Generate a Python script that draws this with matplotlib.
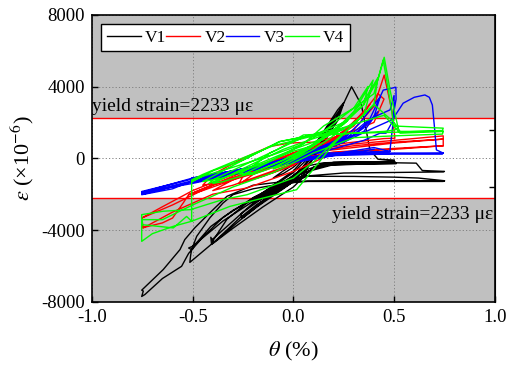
import matplotlib
matplotlib.use("Agg")
import matplotlib.pyplot as plt

plt.rcParams['font.family'] = ['Liberation Serif', 'DejaVu Serif']
plt.rcParams['mathtext.fontset'] = 'stix'

# (rotation %, strain x1e-6) pairs for each gauge, in loading order
v1_path = [
    (0, 0), (0.05, 250), (0.10, 800), (0.06, 200), (0, -350), (-0.05, -700), (-0.10, -1100), (-0.05, -850), (0, -500),
    (0.06, 100), (0.12, 1000), (0.18, 1900), (0.20, 2300), (0.15, 1300), (0.08, 300), (0, -700), (-0.10, -1500),
    (-0.20, -2300), (-0.16, -2100), (-0.08, -1700), (0, -1200),
    (0.07, -400), (0.13, 500), (0.198, 2140), (0.17, 1400), (0.10, 200), (0.03, -700), (-0.08, -1600), (-0.20, -2500),
    (-0.18, -2400), (-0.05, -1600), (0.02, -1100),
    (0.08, 0), (0.15, 1500), (0.22, 2700), (0.25, 3100), (0.20, 1900), (0.10, 300), (0, -800), (-0.13, -1800),
    (-0.25, -3000), (-0.26, -3100), (-0.257, -3330), (-0.15, -2400), (-0.05, -1500), (0.02, -800),
    (0.10, 200), (0.18, 1900), (0.247, 2970), (0.22, 2100), (0.14, 700), (0.05, -500), (-0.08, -1700), (-0.20, -2800),
    (-0.25, -3300), (-0.18, -2700), (-0.05, -1700), (0.05, -900),
    (0.12, 400), (0.18, 1600), (0.22, 2420), (0.25, 3070), (0.289, 3990), (0.338, 2970), (0.38, 470), (0.42, -50),
    (0.50, -100), (0.45, -250), (0.30, -250), (0.15, -300), (0.05, -700), (-0.05, -1300), (-0.20, -2200),
    (-0.33, -3400), (-0.40, -4600), (-0.41, -4400), (-0.406, -4800), (-0.27, -3500), (-0.116, -2120), (0, -1200),
    (0.08, -400), (0.15, -250),
    (0.30, -200), (0.50, -180), (0.51, -300), (0.35, -320), (0.15, -400), (0.03, -900), (-0.10, -1800), (-0.25, -3000),
    (-0.40, -4500), (-0.40, -4750), (-0.30, -3900), (-0.15, -2700), (0, -1600), (0.10, -500), (0.20, -220),
    (0.40, -200), (0.50, -150), (0.51, -280), (0.40, -300), (0.20, -350), (0.05, -800), (-0.10, -1700), (-0.30, -2900),
    (-0.41, -3800), (-0.48, -4700), (-0.505, -5090), (-0.51, -5400), (-0.514, -5800), (-0.39, -4630), (-0.265, -3310),
    (-0.183, -2590), (0.016, -1200), (0.10, -600), (0.20, -300),
    (0.35, -260), (0.50, -250), (0.61, -270), (0.64, -680), (0.75, -730), (0.744, -760), (0.50, -790), (0.25, -820),
    (0.05, -1000), (-0.05, -1500), (-0.20, -2400), (-0.35, -3500), (-0.50, -4900), (-0.52, -5000), (-0.505, -5090),
    (-0.48, -4350), (-0.414, -3310), (-0.35, -2500), (-0.30, -2030), (-0.20, -1700), (0, -1300), (0.07, -1000),
    (0.30, -1010), (0.50, -1050), (0.62, -1100), (0.75, -1250), (0.744, -1290), (0.50, -1290), (0.20, -1290),
    (0.07, -1290),
    (-0.05, -1400), (-0.20, -2200), (-0.35, -3300), (-0.45, -4400), (-0.52, -5300), (-0.555, -6020), (-0.65, -6700),
    (-0.737, -7590), (-0.753, -7700), (-0.745, -7400), (-0.753, -7350), (-0.646, -6200), (-0.563, -5090),
    (-0.539, -4530), (-0.489, -3870), (-0.414, -3030), (-0.33, -2120), (-0.20, -1500), (-0.05, -1300), (0.07, -1270),
    (0.30, -1260), (0.50, -1260), (0.75, -1250),
]

v2_path = [
    (0, 0), (0.05, 200), (0.10, 450), (0.05, 250), (0, 0), (-0.05, -250), (-0.10, -550), (-0.05, -400), (0, -150),
    (0.10, 400), (0.20, 900), (0.25, 1300), (0.18, 900), (0.10, 500), (0, 100), (-0.10, -400), (-0.20, -900),
    (-0.25, -1300), (-0.18, -1100), (-0.08, -700), (0, -300),
    (0.10, 300), (0.20, 1000), (0.27, 1500), (0.20, 1100), (0.10, 700), (0, 300), (-0.12, -300), (-0.25, -1000),
    (-0.27, -1400), (-0.15, -1000), (0, -400),
    (0.10, 300), (0.20, 1100), (0.30, 2000), (0.38, 3000), (0.30, 1800), (0.20, 1100), (0.10, 600), (0, 200),
    (-0.15, -500), (-0.30, -1200), (-0.40, -1800), (-0.30, -1500), (-0.15, -900), (0, -300),
    (0.12, 500), (0.25, 1500), (0.35, 2600), (0.42, 3600), (0.45, 3300), (0.40, 2000), (0.25, 1300), (0.10, 900),
    (-0.02, 850), (-0.12, 650), (-0.25, 0), (-0.40, -900), (-0.45, -1500), (-0.35, -1300), (-0.20, -700), (0, 0),
    (0.15, 700), (0.30, 1600), (0.40, 2900), (0.451, 4640), (0.49, 2600), (0.504, 1120), (0.45, 1100), (0.30, 900),
    (0.15, 700), (0, 300), (-0.15, -300), (-0.30, -1000), (-0.45, -1700), (-0.52, -2030), (-0.45, -1800),
    (-0.30, -1200), (-0.15, -700), (0, -100),
    (0.10, 500), (0.30, 800), (0.50, 1000), (0.744, 1250), (0.744, 1070), (0.50, 900), (0.30, 700), (0.10, 400),
    (-0.10, -200), (-0.30, -900), (-0.50, -1800), (-0.65, -2700), (-0.753, -3330), (-0.753, -3880), (-0.65, -3600),
    (-0.60, -3330), (-0.547, -2490), (-0.52, -2030), (-0.40, -1480), (-0.23, -900), (-0.10, -400), (0.10, 350),
    (0.30, 600), (0.50, 850), (0.744, 1070),
    (0.744, 700), (0.50, 550), (0.20, 350), (0, -50), (-0.20, -700), (-0.40, -1500), (-0.60, -2600), (-0.753, -3330),
    (-0.745, -3880), (-0.60, -3000), (-0.40, -2000), (-0.232, -1660), (0, -730), (0.20, 300), (0.50, 500),
    (0.744, 700),
]

v3_path = [
    (0, 0), (0.05, 150), (0.10, 350), (0.05, 200), (0, 50), (-0.05, -150), (-0.10, -350), (-0.05, -250), (0, -100),
    (0.10, 300), (0.20, 800), (0.25, 1200), (0.15, 700), (0.05, 300), (-0.10, -250), (-0.25, -700), (-0.20, -650),
    (-0.10, -400), (0, -150),
    (0.10, 350), (0.20, 900), (0.27, 1300), (0.18, 800), (0.05, 250), (-0.10, -300), (-0.27, -750), (-0.15, -500),
    (0, -100),
    (0.10, 250), (0.25, 900), (0.35, 1700), (0.42, 2600), (0.35, 1500), (0.20, 800), (0.05, 300), (-0.10, -300),
    (-0.25, -700), (-0.40, -1000), (-0.35, -950), (-0.20, -600), (-0.05, -200),
    (0.10, 300), (0.25, 1100), (0.33, 1960), (0.40, 3000), (0.43, 3400), (0.40, 2300), (0.30, 1300), (0.18, 700),
    (0.05, 300), (-0.10, -200), (-0.30, -700), (-0.45, -1100), (-0.40, -1050), (-0.20, -600), (0, -100),
    (0.10, 300), (0.25, 1000), (0.38, 2200), (0.446, 3800), (0.509, 3960), (0.51, 3300), (0.49, 2000), (0.46, 1400),
    (0.43, 1400), (0.35, 1000), (0.18, 470), (0, 0), (-0.20, -500), (-0.35, -800), (-0.505, -1100), (-0.505, -1350),
    (-0.40, -1150), (-0.20, -650), (0, -150),
    (0.15, 500), (0.30, 1300), (0.40, 2300), (0.48, 2700), (0.50, 3500), (0.50, 2500), (0.479, 380), (0.35, 350),
    (0.20, 300), (0.07, 290), (-0.10, -250), (-0.30, -700), (-0.505, -1190), (-0.51, -1300), (-0.35, -1000),
    (-0.15, -500), (0.05, 0),
    (0.10, 300), (0.25, 900), (0.40, 1700), (0.48, 2100), (0.50, 2300), (0.545, 3070), (0.60, 3400), (0.653, 3530),
    (0.675, 3400), (0.69, 2970), (0.70, 1800), (0.71, 470), (0.744, 290), (0.74, 250), (0.50, 260), (0.30, 260),
    (0.18, 250), (0.05, 0), (-0.10, -400), (-0.30, -900), (-0.50, -1400), (-0.65, -1700), (-0.753, -1950),
    (-0.753, -2030), (-0.60, -1700), (-0.50, -1250), (-0.30, -800), (-0.10, -350), (0.10, 100), (0.30, 250),
    (0.50, 290), (0.744, 300),
    (0.74, 260), (0.50, 250), (0.20, 150), (0, -100), (-0.25, -650), (-0.50, -1150), (-0.753, -1850), (-0.74, -1900),
    (-0.50, -1250), (-0.25, -700), (0, -200), (0.20, 200), (0.48, 380),
    (0.40, 600), (0.20, 250), (0, -150), (-0.25, -600), (-0.50, -1100), (-0.753, -1900), (-0.745, -2000),
    (-0.50, -1300), (-0.25, -750), (0, -250), (0.20, 150), (0.40, 500),
]

v4_path = [
    (0, 0), (0.05, 300), (0.10, 700), (0.05, 400), (0, 100), (-0.05, -250), (-0.10, -600), (-0.05, -400), (0, -100),
    (0.10, 500), (0.18, 1100), (0.25, 1700), (0.18, 1300), (0.10, 900), (0, 500), (-0.12, -200), (-0.25, -900),
    (-0.20, -900), (-0.10, -500), (0, 0),
    (0.10, 700), (0.20, 1500), (0.27, 2100), (0.20, 1600), (0.057, 1210), (-0.117, 290), (-0.18, -270),
    (-0.27, -900), (-0.20, -800), (-0.05, -100), (0.05, 500),
    (0.10, 700), (0.20, 1500), (0.30, 2600), (0.396, 4360), (0.35, 2400), (0.25, 1600), (0.10, 1100), (-0.05, 500),
    (-0.20, -300), (-0.40, -1400), (-0.35, -1300), (-0.20, -800), (-0.05, -100),
    (0.10, 800), (0.25, 2000), (0.35, 3200), (0.42, 4500), (0.40, 3000), (0.30, 1900), (0.15, 1350), (0.05, 1300),
    (-0.083, 470), (-0.25, -400), (-0.40, -1200), (-0.42, -1400), (-0.30, -900), (-0.15, -200), (0, 500),
    (0.15, 1500), (0.30, 2800), (0.37, 4000), (0.35, 3000), (0.25, 2000), (0.10, 1300), (-0.067, 930),
    (-0.20, 200), (-0.35, -700), (-0.45, -1300), (-0.35, -1100), (-0.15, -300), (0, 400),
    (0.10, 700), (0.25, 1900), (0.35, 3000), (0.42, 4400), (0.451, 5630), (0.48, 3800), (0.51, 2200), (0.52, 1700),
    (0.504, 1580), (0.45, 1500), (0.30, 1400), (0.10, 1300), (-0.07, 930), (-0.25, -100), (-0.40, -700),
    (-0.505, -1300), (-0.45, -1000), (-0.30, -500), (-0.10, 200), (0.05, 800),
    (0.15, 1800), (0.30, 2800), (0.40, 3600), (0.446, 5480), (0.47, 3900), (0.50, 1800), (0.744, 1680),
    (0.74, 1550), (0.50, 1450), (0.30, 1400), (0.10, 1250), (-0.10, 700), (-0.30, -200), (-0.45, -900),
    (-0.505, -1200), (-0.505, -3510), (-0.596, -3790), (-0.70, -4200), (-0.753, -4630), (-0.753, -3800),
    (-0.753, -3140), (-0.646, -2950), (-0.51, -2860), (-0.35, -2300), (-0.23, -2030), (0, -1100), (0.10, -200),
    (0.20, 900), (0.30, 1900), (0.40, 3000), (0.50, 2000), (0.53, 1500), (0.744, 1500),
    (0.74, 1350), (0.50, 1250), (0.30, 1150), (0.10, 300), (-0.10, -800), (-0.30, -1600), (-0.50, -2600),
    (-0.65, -3420), (-0.753, -3420), (-0.75, -3700), (-0.596, -3880), (-0.53, -3240), (-0.505, -3510),
    (-0.315, -2680), (0.016, -1750), (0.10, -600), (0.20, 800), (0.30, 1900), (0.45, 2400), (0.53, 1400),
    (0.744, 1500),
]

series_names = ['V1', 'V2', 'V3', 'V4']
series_colors = ['#000000', '#ff0000', '#0000ff', '#00ff00']

theta_ticks = [-1.0, -0.5, 0.0, 0.5, 1.0]
theta_labels = ['-1.0', '-0.5', '0.0', '0.5', '1.0']
strain_ticks = [-8000, -4000, 0, 4000, 8000]
strain_labels = ['-8000', '-4000', '0', '4000', '8000']
yield_strain = 2233

fig = plt.figure(figsize=(5.08, 3.69), dpi=100)
ax = fig.add_axes([0.181, 0.182, 0.793, 0.778])

ax.set_xlim(-1.0, 1.0)
ax.set_ylim(-8000, 8000)

# shaded yielded regions and yield limits
ax.axhspan(yield_strain, 8000, color='#c0c0c0', lw=0, zorder=0.1)
ax.axhspan(-8000, -yield_strain, color='#c0c0c0', lw=0, zorder=0.1)
ax.axhline(yield_strain, color='#ff0000', lw=1.0, zorder=1.5)
ax.axhline(-yield_strain, color='#ff0000', lw=1.0, zorder=1.5)

for name, path, c in zip(series_names, [v1_path, v2_path, v3_path, v4_path], series_colors):
    th = [p[0] for p in path]
    st = [p[1] for p in path]
    ax.plot(th, st, color=c, lw=1.0, label=name, zorder=2)

ax.set_axisbelow(True)
ax.grid(True, linestyle=(0, (1.2, 2.2)), color='#808080', lw=0.7)
ax.set_xticks(theta_ticks)
ax.set_xticklabels(theta_labels)
ax.set_yticks(strain_ticks)
ax.set_yticklabels(strain_labels)
ax.tick_params(direction='in', length=4, width=1.0, labelsize=13.5, pad=5)

for sp in ax.spines.values():
    sp.set_linewidth(1.2)

top = ax.secondary_xaxis('top')
top.set_xticks([-0.6, -0.2, 0.2, 0.6])
top.set_xticklabels([])
top.tick_params(direction='in', length=4, width=1.0)
right = ax.secondary_yaxis('right')
right.set_yticks([-4800, -1600, 1600, 4800])
right.set_yticklabels([])
right.tick_params(direction='in', length=4, width=1.0)

ax.text(-0.998, 2420, 'yield strain=2233 με', fontsize=14, ha='left', va='bottom')
ax.text(0.99, -2680, 'yield strain=2233 με', fontsize=14, ha='right', va='top')

ax.set_xlabel(r'$\theta$ (%)', fontsize=16, labelpad=10)
ax.set_ylabel(r'$\varepsilon$ (×10$^{-6}$)', fontsize=16, labelpad=4)

leg = ax.legend(loc='upper left', ncol=4, fontsize=12.5, frameon=True, fancybox=False,
                edgecolor='black', framealpha=1, handlelength=1.95, handletextpad=0.25,
                columnspacing=0.0, borderpad=0.3, borderaxespad=0.55)
leg.get_frame().set_linewidth(1.0)

fig.savefig('out.png', dpi=100)
